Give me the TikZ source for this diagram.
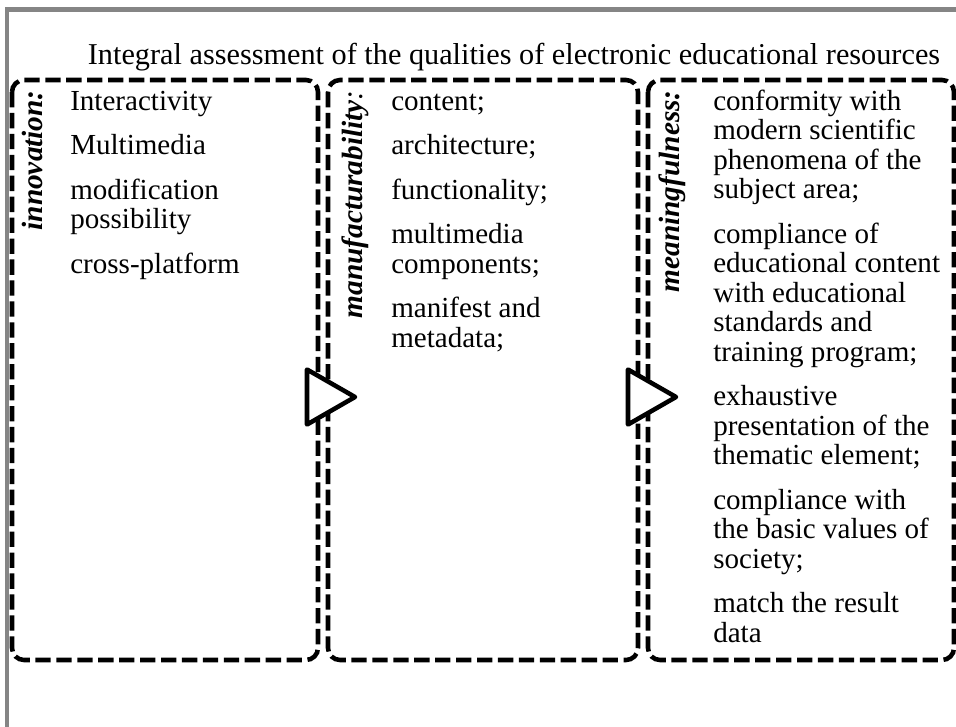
\documentclass[tikz,border=0pt]{standalone}
\usepackage{fontspec}
\setmainfont{Liberation Serif}

\tikzset{
  frame/.style={draw=black!48, line width=3.6pt},
  dbox/.style={draw=black, line width=3.4pt, dash pattern=on 11.5pt off 4.2pt, rounded corners=9pt},
  arrowtri/.style={draw=black, fill=white, line width=3.4pt, line join=round},
  vlabel/.style={rotate=90, anchor=base east, inner sep=0pt, font=\fontsize{22}{22.1}\selectfont\bfseries\itshape},
  items/.style={anchor=north west, inner sep=0pt, align=left, font=\fontsize{21.8}{22.1}\selectfont},
  heading/.style={anchor=base, inner sep=0pt, font=\fontsize{22.7}{24}\selectfont},
}
\newcommand{\itemgap}{11.3pt}

\begin{document}
\begin{tikzpicture}[x=0.75pt, y=-0.75pt]
\useasboundingbox (0,0) rectangle (956,726);
\clip (0,0) rectangle (956,726);
% outer frame
\draw[frame] (7,9.5) rectangle (970,740);
% title
\node[heading] (head) at (514,64) {Integral assessment of the qualities of electronic educational resources};
% three groups
\draw[dbox] (12,80) rectangle (318,660);
\draw[dbox] (328,80) rectangle (638,660);
\draw[dbox] (648,80) rectangle (954,660);
% arrows between groups
\coordinate (tri1) at (307,397);
\coordinate (tri2) at (628,397);
\foreach \t in {tri1,tri2} {
    \draw[arrowtri] (\t) ++(0,-27.5) -- ++(48,27.5) -- ++(-48,27.5) -- cycle;
}
% group names
\node[vlabel] (innov) at (42,90) {innovation:};
\node[vlabel] (manuf) at (362,90) {\textbf{manufacturability}\textmd{:}};
\node[vlabel] (meanf) at (679,90) {meaningfulness:};
% group contents
\node[items] (innovlist) at (70,89.4) {\strut Interactivity\\[\itemgap]
    Multimedia\\[\itemgap]
    modification\\possibility\\[\itemgap]
    cross-platform};
\node[items] (manuflist) at (391,89.4) {\strut content;\\[\itemgap]
    architecture;\\[\itemgap]
    functionality;\\[\itemgap]
    multimedia\\components;\\[\itemgap]
    manifest and\\metadata;};
\node[items] (meanflist) at (713,89.4) {\strut conformity with\\modern scientific\\phenomena of the\\subject area;\\[\itemgap]
    compliance of\\educational content\\with educational\\standards and\\training program;\\[\itemgap]
    exhaustive\\presentation of the\\thematic element;\\[\itemgap]
    compliance with\\the basic values of\\society;\\[\itemgap]
    match the result\\data};
\end{tikzpicture}
\end{document}
